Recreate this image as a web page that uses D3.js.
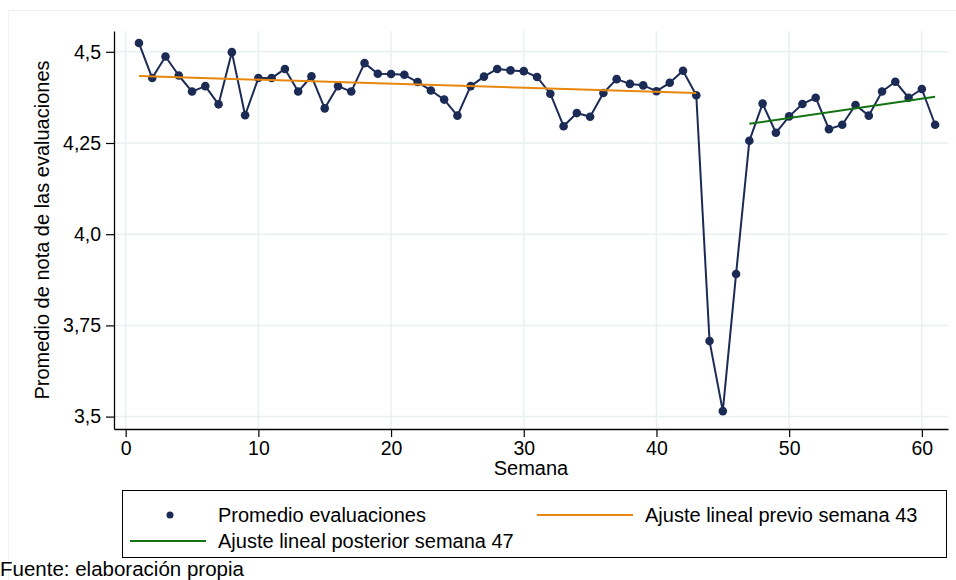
<!DOCTYPE html>
<html>
<head>
<meta charset="utf-8">
<script src="https://cdn.jsdelivr.net/npm/d3@7"></script>
<style>
  html, body { margin: 0; padding: 0; background: #fff; }
  svg { display: block; font-family: "Liberation Sans", Arial, Helvetica, sans-serif; }
</style>
</head>
<body>
<svg id="chart" width="956" height="580"></svg>
<script>
// Weekly average evaluation grade
const weeks = d3.range(1, 62);
const promedio = [
  4.524, 4.428, 4.487, 4.435, 4.391, 4.406, 4.356, 4.499, 4.326, 4.428,
  4.428, 4.453, 4.391, 4.433, 4.345, 4.406, 4.391, 4.469, 4.440, 4.439,
  4.437, 4.417, 4.394, 4.369, 4.325, 4.406, 4.432, 4.453, 4.449, 4.447,
  4.431, 4.385, 4.296, 4.332, 4.322, 4.387, 4.425, 4.412, 4.408, 4.392,
  4.415, 4.448, 4.381, 3.707, 3.515, 3.891, 4.256, 4.358, 4.278, 4.323,
  4.357, 4.374, 4.288, 4.300, 4.354, 4.325, 4.391, 4.418, 4.374, 4.398,
  4.300
];
const xTicks = [0, 10, 20, 30, 40, 50, 60];
const yTicks = [3.5, 3.75, 4.0, 4.25, 4.5];
const yTickLabels = ["3,5", "3,75", "4,0", "4,25", "4,5"];
const tramoPrevio = [1, 43];      // weeks used for the first linear fit
const tramoPosterior = [47, 61];  // weeks used for the second linear fit

const colNavy = "#1c2b55";
const colOrange = "#e8870e";
const colGreen = "#137313";
const colGrid = "#e9f0f2";
const fontMain = "20px";
const fontTicks = "19.5px";

const svg = d3.select("#chart");

// outer graph region border
svg.append("rect")
  .attr("x", 8.5).attr("y", 10.5).attr("width", 960).attr("height", 600)
  .attr("fill", "none").attr("stroke", "#edf2f3").attr("stroke-width", 1);

const plot = { left: 114, right: 948, top: 31, bottom: 429 };

const x = d3.scaleLinear().domain([-0.88, 61.97]).range([plot.left, plot.right]);
const y = d3.scaleLinear().domain([3.466, 4.557]).range([plot.bottom, plot.top]);

// grid
const grid = svg.append("g");
grid.selectAll("line.gx").data(xTicks).join("line")
  .attr("x1", d => x(d)).attr("x2", d => x(d))
  .attr("y1", plot.top).attr("y2", plot.bottom)
  .attr("stroke", colGrid).attr("stroke-width", 1.5);
grid.selectAll("line.gy").data(yTicks).join("line")
  .attr("x1", plot.left).attr("x2", plot.right)
  .attr("y1", d => y(d)).attr("y2", d => y(d))
  .attr("stroke", colGrid).attr("stroke-width", 1.5);

// axes
const xAxis = d3.axisBottom(x).tickValues(xTicks).tickSize(8).tickPadding(4).tickSizeOuter(0);
const yAxis = d3.axisLeft(y).tickValues(yTicks).tickSize(8).tickPadding(5).tickSizeOuter(0)
  .tickFormat((d, i) => yTickLabels[i]);

const gx = svg.append("g").attr("transform", `translate(0,${plot.bottom})`).call(xAxis);
const gy = svg.append("g").attr("transform", `translate(${plot.left},0)`).call(yAxis);
[gx, gy].forEach(g => {
  g.select(".domain").attr("stroke", "#000").attr("stroke-width", 1.3);
  g.selectAll(".tick line").attr("stroke", "#000").attr("stroke-width", 1.2);
  g.selectAll(".tick text").attr("fill", "#000").style("font-size", fontTicks)
    .style("font-family", "\"Liberation Sans\", Arial, Helvetica, sans-serif");
});

// axis titles
svg.append("text")
  .attr("x", (plot.left + plot.right) / 2).attr("y", 475)
  .attr("text-anchor", "middle").style("font-size", fontMain).text("Semana");
svg.append("text")
  .attr("transform", `translate(49,${(plot.top + plot.bottom) / 2}) rotate(-90)`)
  .attr("text-anchor", "middle").style("font-size", fontMain)
  .text("Promedio de nota de las evaluaciones");

// least-squares line over a range of weeks
function ajuste([a, b]) {
  const pts = weeks.map((w, i) => [w, promedio[i]]).filter(p => p[0] >= a && p[0] <= b);
  const mx = d3.mean(pts, p => p[0]), my = d3.mean(pts, p => p[1]);
  const slope = d3.sum(pts, p => (p[0] - mx) * (p[1] - my)) / d3.sum(pts, p => (p[0] - mx) ** 2);
  const icpt = my - slope * mx;
  return [[a, icpt + slope * a], [b, icpt + slope * b]];
}

const line = d3.line().x(d => x(d[0])).y(d => y(d[1]));
const serie = weeks.map((w, i) => [w, promedio[i]]);

svg.append("path").datum(serie)
  .attr("d", line).attr("fill", "none")
  .attr("stroke", colNavy).attr("stroke-width", 2).attr("stroke-linejoin", "round");

svg.selectAll("circle.pt").data(serie).join("circle")
  .attr("class", "pt")
  .attr("cx", d => x(d[0])).attr("cy", d => y(d[1])).attr("r", 4.3)
  .attr("fill", colNavy);

svg.append("path").datum(ajuste(tramoPrevio))
  .attr("d", line).attr("fill", "none").attr("stroke", colOrange).attr("stroke-width", 2);
svg.append("path").datum(ajuste(tramoPosterior))
  .attr("d", line).attr("fill", "none").attr("stroke", colGreen).attr("stroke-width", 2);

// legend
const lg = svg.append("g");
lg.append("rect").attr("x", 122.5).attr("y", 490.5).attr("width", 824).attr("height", 67)
  .attr("fill", "#fff").attr("stroke", "#000").attr("stroke-width", 1);
lg.append("circle").attr("cx", 170).attr("cy", 515).attr("r", 3.5).attr("fill", colNavy);
lg.append("text").attr("x", 218).attr("y", 522).style("font-size", fontMain).text("Promedio evaluaciones");
lg.append("line").attr("x1", 537).attr("x2", 633).attr("y1", 515).attr("y2", 515)
  .attr("stroke", colOrange).attr("stroke-width", 2);
lg.append("text").attr("x", 645).attr("y", 522).style("font-size", fontMain).text("Ajuste lineal previo semana 43");
lg.append("line").attr("x1", 130).attr("x2", 206).attr("y1", 541).attr("y2", 541)
  .attr("stroke", colGreen).attr("stroke-width", 2);
lg.append("text").attr("x", 218).attr("y", 548).style("font-size", fontMain).text("Ajuste lineal posterior semana 47");

// source note
svg.append("text").attr("x", 0).attr("y", 576).style("font-size", "20.5px").text("Fuente: elaboración propia");
</script>
</body>
</html>
